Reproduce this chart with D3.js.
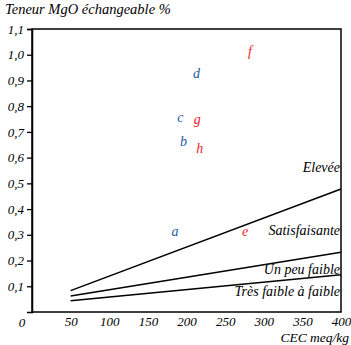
<!DOCTYPE html>
<html><head><meta charset="utf-8">
<script src="https://cdn.jsdelivr.net/npm/d3@7"></script>
<style>
body{margin:0;background:#fff;}
</style></head>
<body>
<svg id="c" width="351" height="345"></svg>
<script>
const yTicks = [0.1,0.2,0.3,0.4,0.5,0.6,0.7,0.8,0.9,1.0,1.1];
const xTicks = [50,100,150,200,250,300,350,400];
const lineNames = ["Elevée","Un peu faible","Très faible à faible"];
const lineStart = [0.083,0.062,0.044];   // at CEC = 50
const lineEnd = [0.478,0.232,0.145];     // at CEC = 400
const zoneLabels = ["Elevée","Satisfaisante","Un peu faible","Très faible à faible"];
const zoneLabelY = [0.565,0.32,0.168,0.082];
const pointLetters = ["a","b","c","d","e","f","g","h"];
const pointCEC = [185,196,192,213,276,282,214,217];
const pointMgO = [0.313,0.662,0.753,0.927,0.313,1.012,0.746,0.636];
const pointGroup = ["blue","blue","blue","blue","red","red","red","red"];
const colors = {blue:"#1f5aa6", red:"#f21c1c"};

const FONT = "'Liberation Serif', 'Times New Roman', serif";
const svg = d3.select("#c");
const x = d3.scaleLinear().domain([0,400]).range([32,341]);
const y = d3.scaleLinear().domain([0,1.1]).range([312,29]);

function styleText(sel, size){
  sel.style("font-family", FONT).style("font-style","italic").style("font-size", size+"px");
  return sel;
}

// frame
svg.append("rect").attr("x",x(0)).attr("y",y(1.1)).attr("width",x(400)-x(0)).attr("height",y(0)-y(1.1))
  .attr("fill","none").attr("stroke","#000").attr("stroke-width",1.5);

// y axis
const ya = svg.append("g").attr("transform",`translate(${x(0)},0)`)
  .call(d3.axisLeft(y).tickValues(yTicks).tickSize(5).tickPadding(3).tickFormat(d=>d3.format(".1f")(d).replace(".",",")));
ya.select(".domain").attr("stroke-width",1.5);
ya.selectAll(".tick line").attr("stroke-width",1.3);
styleText(ya.selectAll("text"),13);

// x axis
const xa = svg.append("g").attr("transform",`translate(0,${y(0)})`)
  .call(d3.axisBottom(x).tickValues(xTicks).tickSize(0).tickPadding(5));
xa.select(".domain").remove();
styleText(xa.selectAll("text"),13);

styleText(svg.append("text").attr("x",22).attr("y",327).attr("text-anchor","middle").text("0"),13);

// lines
lineNames.forEach((n,i)=>{
  svg.append("line").attr("x1",x(50)).attr("y1",y(lineStart[i])).attr("x2",x(400)).attr("y2",y(lineEnd[i]))
    .attr("stroke","#000").attr("stroke-width",1.5);
});

// zone labels
zoneLabels.forEach((t,i)=>{
  styleText(svg.append("text").attr("x",x(400)-1).attr("y",y(zoneLabelY[i])).attr("dy","0.35em")
    .attr("text-anchor","end").text(t),14);
});

// points (letters)
pointLetters.forEach((l,i)=>{
  styleText(svg.append("text").attr("x",x(pointCEC[i])).attr("y",y(pointMgO[i])).attr("dy","0.3em")
    .attr("text-anchor","middle").attr("fill",colors[pointGroup[i]]).text(l),14);
});

// titles
styleText(svg.append("text").attr("x",5).attr("y",14).text("Teneur MgO échangeable %"),14.5);
styleText(svg.append("text").attr("x",349).attr("y",342).attr("text-anchor","end").text("CEC meq/kg"),13.5);
</script>
</body></html>
